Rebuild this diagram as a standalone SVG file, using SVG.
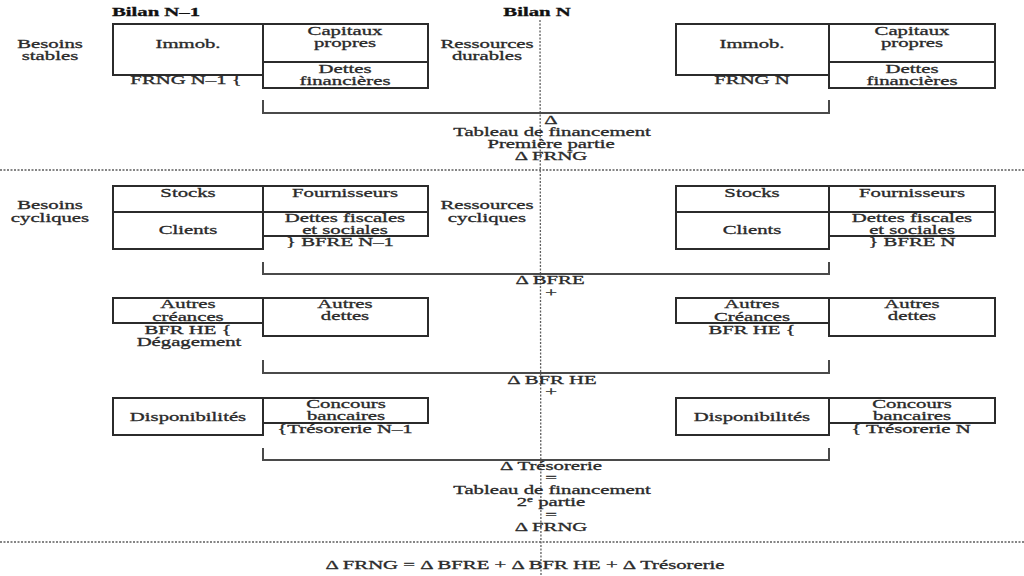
<svg xmlns="http://www.w3.org/2000/svg" width="1024" height="576" viewBox="0 0 1024 576">
<style>
.bg{fill:#ffffff}
.box{fill:none;stroke:#2b2b2b;stroke-width:2}
.br{fill:none;stroke:#4a4a4a;stroke-width:2}
.dot{fill:none;stroke:#5e5e5e;stroke-width:1.3;stroke-dasharray:2 1.5}
.t{font-family:"Liberation Serif","Times New Roman",serif;font-size:12.5px;fill:#2a2a2a;stroke:#2a2a2a;stroke-width:0.3;text-anchor:middle}
.h{font-weight:bold;fill:#111;stroke:#111}
</style>
<rect class="bg" x="0" y="0" width="1024" height="576"/>

<g id="guides">
<line class="dot" x1="0" y1="170" x2="1024" y2="170"/>
<line class="dot" x1="0" y1="542" x2="1024" y2="542"/>
<line class="dot" x1="540" y1="20" x2="541" y2="576"/>
</g>

<g id="headers">
<text class="t h" transform="translate(156 16) scale(1.66 1)">Bilan N–1</text>
<text class="t h" transform="translate(537 16) scale(1.66 1)">Bilan N</text>
</g>

<g id="side-labels">
<text class="t" transform="translate(50 48) scale(1.66 1)">Besoins</text>
<text class="t" transform="translate(50 60) scale(1.66 1)">stables</text>
<text class="t" transform="translate(487 48) scale(1.66 1)">Ressources</text>
<text class="t" transform="translate(487 60) scale(1.66 1)">durables</text>
<text class="t" transform="translate(50 209) scale(1.66 1)">Besoins</text>
<text class="t" transform="translate(50 222) scale(1.66 1)">cycliques</text>
<text class="t" transform="translate(487 209) scale(1.66 1)">Ressources</text>
<text class="t" transform="translate(487 222) scale(1.66 1)">cycliques</text>
</g>

<g id="n1-immob">
<rect class="box" x="113" y="24" width="150" height="51"/>
<text class="t" transform="translate(188 48) scale(1.66 1)">Immob.</text>
</g>
<g id="n1-capitaux">
<rect class="box" x="263" y="24" width="165" height="38"/>
<text class="t" transform="translate(345 35) scale(1.66 1)">Capitaux</text>
<text class="t" transform="translate(345 47) scale(1.66 1)">propres</text>
</g>
<g id="n1-dettes">
<rect class="box" x="263" y="62" width="165" height="26"/>
<text class="t" transform="translate(345 73) scale(1.66 1)">Dettes</text>
<text class="t" transform="translate(345 85) scale(1.66 1)">financières</text>
</g>
<g id="n1-frng">
<text class="t" transform="translate(186 84) scale(1.66 1)">FRNG N–1 {</text>
</g>

<g id="n-immob">
<rect class="box" x="676" y="24" width="153" height="51"/>
<text class="t" transform="translate(752 48) scale(1.66 1)">Immob.</text>
</g>
<g id="n-capitaux">
<rect class="box" x="829" y="24" width="166" height="38"/>
<text class="t" transform="translate(912 35) scale(1.66 1)">Capitaux</text>
<text class="t" transform="translate(912 47) scale(1.66 1)">propres</text>
</g>
<g id="n-dettes">
<rect class="box" x="829" y="62" width="166" height="26"/>
<text class="t" transform="translate(912 73) scale(1.66 1)">Dettes</text>
<text class="t" transform="translate(912 85) scale(1.66 1)">financières</text>
</g>
<g id="n-frng">
<text class="t" transform="translate(752 84) scale(1.66 1)">FRNG N</text>
</g>

<g id="tf1">
<text class="t" transform="translate(551 124) scale(1.66 1)">Δ</text>
<text class="t" transform="translate(552 136) scale(1.66 1)">Tableau de financement</text>
<text class="t" transform="translate(551 148) scale(1.66 1)">Première partie</text>
<text class="t" transform="translate(551 160) scale(1.66 1)">Δ FRNG</text>
</g>

<g id="n1-stocks">
<rect class="box" x="113" y="186" width="150" height="26"/>
<text class="t" transform="translate(188 197) scale(1.66 1)">Stocks</text>
</g>
<g id="n1-clients">
<rect class="box" x="113" y="212" width="150" height="37"/>
<text class="t" transform="translate(188 234) scale(1.66 1)">Clients</text>
</g>
<g id="n1-fournisseurs">
<rect class="box" x="263" y="186" width="165" height="26"/>
<text class="t" transform="translate(345 197) scale(1.66 1)">Fournisseurs</text>
</g>
<g id="n1-dfs">
<rect class="box" x="263" y="212" width="165" height="24"/>
<text class="t" transform="translate(345 222) scale(1.66 1)">Dettes fiscales</text>
<text class="t" transform="translate(345 234) scale(1.66 1)">et sociales</text>
</g>
<g id="n1-bfre">
<text class="t" transform="translate(340 246) scale(1.66 1)">} BFRE N–1</text>
</g>

<g id="n-stocks">
<rect class="box" x="676" y="186" width="153" height="26"/>
<text class="t" transform="translate(752 197) scale(1.66 1)">Stocks</text>
</g>
<g id="n-clients">
<rect class="box" x="676" y="212" width="153" height="37"/>
<text class="t" transform="translate(752 234) scale(1.66 1)">Clients</text>
</g>
<g id="n-fournisseurs">
<rect class="box" x="829" y="186" width="166" height="26"/>
<text class="t" transform="translate(912 197) scale(1.66 1)">Fournisseurs</text>
</g>
<g id="n-dfs">
<rect class="box" x="829" y="212" width="166" height="24"/>
<text class="t" transform="translate(912 222) scale(1.66 1)">Dettes fiscales</text>
<text class="t" transform="translate(912 234) scale(1.66 1)">et sociales</text>
</g>
<g id="n-bfre">
<text class="t" transform="translate(912 246) scale(1.66 1)">} BFRE N</text>
</g>

<g id="d-bfre">
<text class="t" transform="translate(550 284) scale(1.66 1)">Δ BFRE</text>
<text class="t" transform="translate(551 297) scale(1.66 1)">+</text>
</g>

<g id="n1-autres-creances">
<rect class="box" x="113" y="298" width="150" height="25"/>
<text class="t" transform="translate(188 308) scale(1.66 1)">Autres</text>
<text class="t" transform="translate(188 321) scale(1.66 1)">créances</text>
</g>
<g id="n1-autres-dettes">
<rect class="box" x="263" y="298" width="165" height="38"/>
<text class="t" transform="translate(345 308) scale(1.66 1)">Autres</text>
<text class="t" transform="translate(345 320) scale(1.66 1)">dettes</text>
</g>
<g id="n1-bfrhe">
<text class="t" transform="translate(188 334) scale(1.66 1)">BFR HE {</text>
<text class="t" transform="translate(189 346) scale(1.66 1)">Dégagement</text>
</g>
<g id="n-autres-creances">
<rect class="box" x="676" y="298" width="153" height="25"/>
<text class="t" transform="translate(752 308) scale(1.66 1)">Autres</text>
<text class="t" transform="translate(752 321) scale(1.66 1)">Créances</text>
</g>
<g id="n-autres-dettes">
<rect class="box" x="829" y="298" width="166" height="38"/>
<text class="t" transform="translate(912 308) scale(1.66 1)">Autres</text>
<text class="t" transform="translate(912 320) scale(1.66 1)">dettes</text>
</g>
<g id="n-bfrhe">
<text class="t" transform="translate(752 334) scale(1.66 1)">BFR HE {</text>
</g>

<g id="d-bfrhe">
<text class="t" transform="translate(552 384) scale(1.66 1)">Δ BFR HE</text>
<text class="t" transform="translate(551 396) scale(1.66 1)">+</text>
</g>

<g id="n1-dispo">
<rect class="box" x="113" y="398" width="150" height="37"/>
<text class="t" transform="translate(188 421) scale(1.66 1)">Disponibilités</text>
</g>
<g id="n1-concours">
<rect class="box" x="263" y="398" width="165" height="25"/>
<text class="t" transform="translate(346 408) scale(1.66 1)">Concours</text>
<text class="t" transform="translate(346 420) scale(1.66 1)">bancaires</text>
</g>
<g id="n1-treso">
<text class="t" transform="translate(345 433) scale(1.66 1)">{Trésorerie N–1</text>
</g>
<g id="n-dispo">
<rect class="box" x="676" y="398" width="153" height="37"/>
<text class="t" transform="translate(752 421) scale(1.66 1)">Disponibilités</text>
</g>
<g id="n-concours">
<rect class="box" x="829" y="398" width="166" height="25"/>
<text class="t" transform="translate(912 408) scale(1.66 1)">Concours</text>
<text class="t" transform="translate(912 420) scale(1.66 1)">bancaires</text>
</g>
<g id="n-treso">
<text class="t" transform="translate(911 433) scale(1.66 1)">{ Trésorerie N</text>
</g>

<g id="tf2">
<text class="t" transform="translate(551 470) scale(1.66 1)">Δ Trésorerie</text>
<text class="t" transform="translate(551 482) scale(1.66 1)">=</text>
<text class="t" transform="translate(552 494) scale(1.66 1)">Tableau de financement</text>
<text class="t" transform="translate(551 506) scale(1.66 1)">2<tspan dy="-4" font-size="8">e</tspan><tspan dy="4"> partie</tspan></text>
<text class="t" transform="translate(551 519) scale(1.66 1)">=</text>
<text class="t" transform="translate(551 531) scale(1.66 1)">Δ FRNG</text>
</g>

<g id="formula">
<text class="t" transform="translate(525 569) scale(1.66 1)">Δ FRNG = Δ BFRE + Δ BFR HE + Δ Trésorerie</text>
</g>

<g id="connectors">
<path class="br" d="M263,100 V113 H829 V100"/>
<path class="br" d="M263,262 V274 H829 V262"/>
<path class="br" d="M263,360 V373 H829 V360"/>
<path class="br" d="M263,448 V460 H829 V448"/>
</g>
</svg>
